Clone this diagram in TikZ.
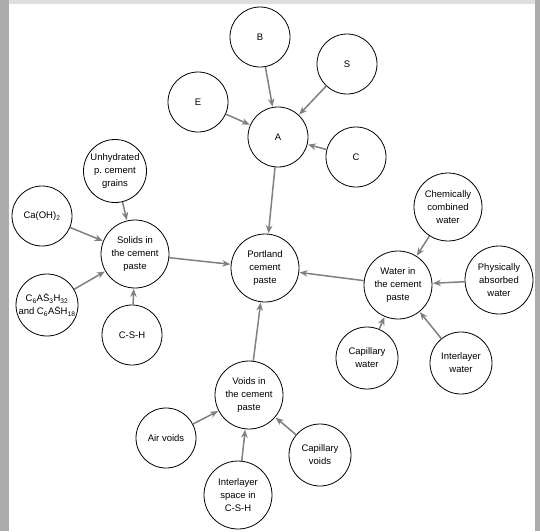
\documentclass[tikz,border=0pt]{standalone}
\usepackage{fontspec}
\setmainfont{Liberation Sans}
\usetikzlibrary{arrows.meta}

\begin{document}
\begin{tikzpicture}[x=1pt, y=-1pt,
        >={Stealth[length=8pt,width=6.5pt]},
        bubble/.style={draw, circle, line width=0.8pt, inner sep=0pt,
            minimum size=60pt, align=center,
            font=\fontsize{9.5}{13}\selectfont},
        bigbubble/.style={bubble, minimum size=68pt},
        feed/.style={->, draw=gray, line width=1.5pt, shorten >=0.5pt}]
    % Page and window frame
    \useasboundingbox (0,0) rectangle (540,531);
    \fill[white] (0,0) rectangle (540,531);
    \fill[gray!65] (0,0) rectangle (9,531);
    \fill[gray!65] (535,0) rectangle (540,531);
    \fill[gray!25] (9,0) rectangle (535,4);

    % Top group
    \node[bubble] (B) at (260,37) {B};
    \node[bubble] (S) at (347,64) {S};
    \node[bubble] (E) at (198,102) {E};
    \node[bubble] (A) at (278,137) {A};
    \node[bubble] (C) at (356,157) {C};

    % Centre
    \node[bigbubble] (port) at (265,268) {Portland\\cement\\paste};

    % Solids
    \node[bubble, minimum size=63pt] (unhyd) at (115,171)
        {Unhydrated\\p.\ cement\\grains};
    \node[bubble] (caoh) at (42,216) {Ca(OH)\textsubscript{2}};
    \node[bigbubble] (solids) at (135,254) {Solids in\\the cement\\paste};
    \node[bubble, minimum size=62pt] (ettr) at (47,305)
        {C\textsubscript{6}A\={S}\textsubscript{3}H\textsubscript{32}\\
         and C\textsubscript{6}A\={S}H\textsubscript{18}};
    \node[bubble] (csh) at (132,335) {C-S-H};

    % Water
    \node[bigbubble] (chem) at (448,207) {Chemically\\combined\\water};
    \node[bigbubble] (phys) at (499,280) {Physically\\absorbed\\water};
    \node[bigbubble] (water) at (398,285) {Water in\\the cement\\paste};
    \node[bubble, minimum size=62pt] (capw) at (367,358) {Capillary\\water};
    \node[bubble, minimum size=62pt] (interw) at (461,363) {Interlayer\\water};

    % Voids
    \node[bigbubble] (voids) at (249,395) {Voids in\\the cement\\paste};
    \node[bubble] (air) at (166,438) {Air voids};
    \node[bubble, minimum size=62pt] (capv) at (320,455) {Capillary\\voids};
    \node[bigbubble] (interl) at (238,495) {Interlayer\\space in\\C-S-H};

    % Connectors
    \foreach \src in {B, S, E, C}
        \draw[feed] (\src) -- (A);
    \foreach \src in {A, solids, water, voids}
        \draw[feed] (\src) -- (port);
    \foreach \src in {unhyd, caoh, ettr, csh}
        \draw[feed] (\src) -- (solids);
    \foreach \src in {chem, phys, capw, interw}
        \draw[feed] (\src) -- (water);
    \foreach \src in {air, capv, interl}
        \draw[feed] (\src) -- (voids);
\end{tikzpicture}
\end{document}
